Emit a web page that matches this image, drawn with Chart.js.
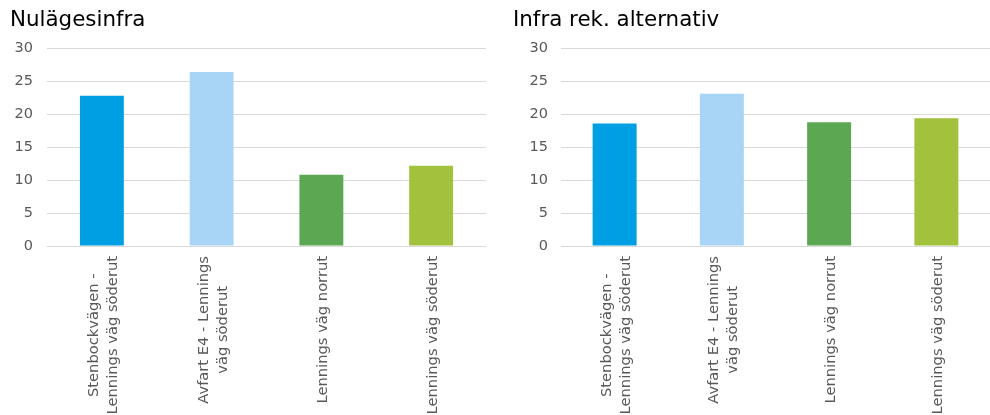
<!DOCTYPE html>
<html>
<head>
<meta charset="utf-8">
<script src="https://cdn.jsdelivr.net/npm/chart.js@4"></script>
<style>
    html, body { margin: 0; padding: 0; background: #fff; }
    .wrap { position: absolute; top: 0; width: 495px; height: 415px; }
    #left { left: 0; }
    #right { left: 495px; }
</style>
</head>
<body>
<div class="wrap" id="left"><canvas id="chartNulage"></canvas></div>
<div class="wrap" id="right"><canvas id="chartInfra"></canvas></div>
<script>
// data
const categories = [
    ['Stenbockvägen -', 'Lennings väg söderut'],
    ['Avfart E4 - Lennings', 'väg söderut'],
    'Lennings väg norrut',
    'Lennings väg söderut'
];
const nulageValues = [22.8, 26.4, 10.8, 12.2];
const infraRekValues = [18.6, 23.1, 18.8, 19.4];
const titles = ['Nulägesinfra', 'Infra rek. alternativ'];
const yMin = 0, yMax = 30, yStep = 5;

const barColors = ['#009fe3', '#a8d5f5', '#5ca751', '#a2c13c'];
const FONT = '"DejaVu Sans", Verdana, sans-serif';

// rotated, centered multi-line x labels (Excel style)
const verticalLabels = {
    id: 'verticalLabels',
    afterDraw(chart) {
        const xs = chart.scales.x;
        const ctx = chart.ctx;
        const lineH = 19;
        ctx.save();
        ctx.font = '14.7px ' + FONT;
        ctx.fillStyle = '#595959';
        ctx.textAlign = 'center';
        ctx.textBaseline = 'middle';
        chart.data.labels.forEach((lab, i) => {
            const lines = Array.isArray(lab) ? lab : [lab];
            const w = Math.max(...lines.map(l => ctx.measureText(l).width));
            const x = xs.getPixelForTick(i);
            ctx.save();
            ctx.translate(x + 2, xs.top + 10 + w / 2);
            ctx.rotate(-Math.PI / 2);
            lines.forEach((l, j) => {
                ctx.fillText(l, 0, (j - (lines.length - 1) / 2) * lineH);
            });
            ctx.restore();
        });
        ctx.restore();
    }
};

function makeChart(id, title, values, padLeft, padRight, yWidth, tickPad, barPct) {
    return new Chart(document.getElementById(id), {
        type: 'bar',
        data: {
            labels: categories,
            datasets: [{
                data: values,
                backgroundColor: barColors,
                borderWidth: 0,
                categoryPercentage: 1,
                barPercentage: barPct
            }]
        },
        options: {
            responsive: true,
            maintainAspectRatio: false,
            animation: false,
            layout: { padding: { left: padLeft, right: padRight, top: 8, bottom: 0 } },
            plugins: {
                legend: { display: false },
                tooltip: { enabled: false },
                title: {
                    display: true,
                    text: title,
                    align: 'start',
                    color: '#000',
                    font: { family: FONT, size: 21.4, weight: 'normal' },
                    padding: { top: 0, bottom: 14.7 }
                }
            },
            scales: {
                x: {
                    grid: { display: false },
                    border: { display: false },
                    ticks: { display: false },
                    afterFit: s => { s.height = 169; }
                },
                y: {
                    min: yMin,
                    max: yMax,
                    ticks: {
                        stepSize: yStep,
                        color: '#595959',
                        padding: tickPad,
                        font: { family: FONT, size: 14.5 }
                    },
                    grid: { color: '#d9d9d9', drawTicks: false },
                    border: { display: false },
                    afterFit: s => { s.width = yWidth; }
                }
            }
        },
        plugins: [verticalLabels]
    });
}

makeChart('chartNulage', titles[0], nulageValues, 10, 9, 37, 14, 0.4);
makeChart('chartInfra', titles[1], infraRekValues, 18, 0, 48, 13, 0.41);
</script>
</body>
</html>
